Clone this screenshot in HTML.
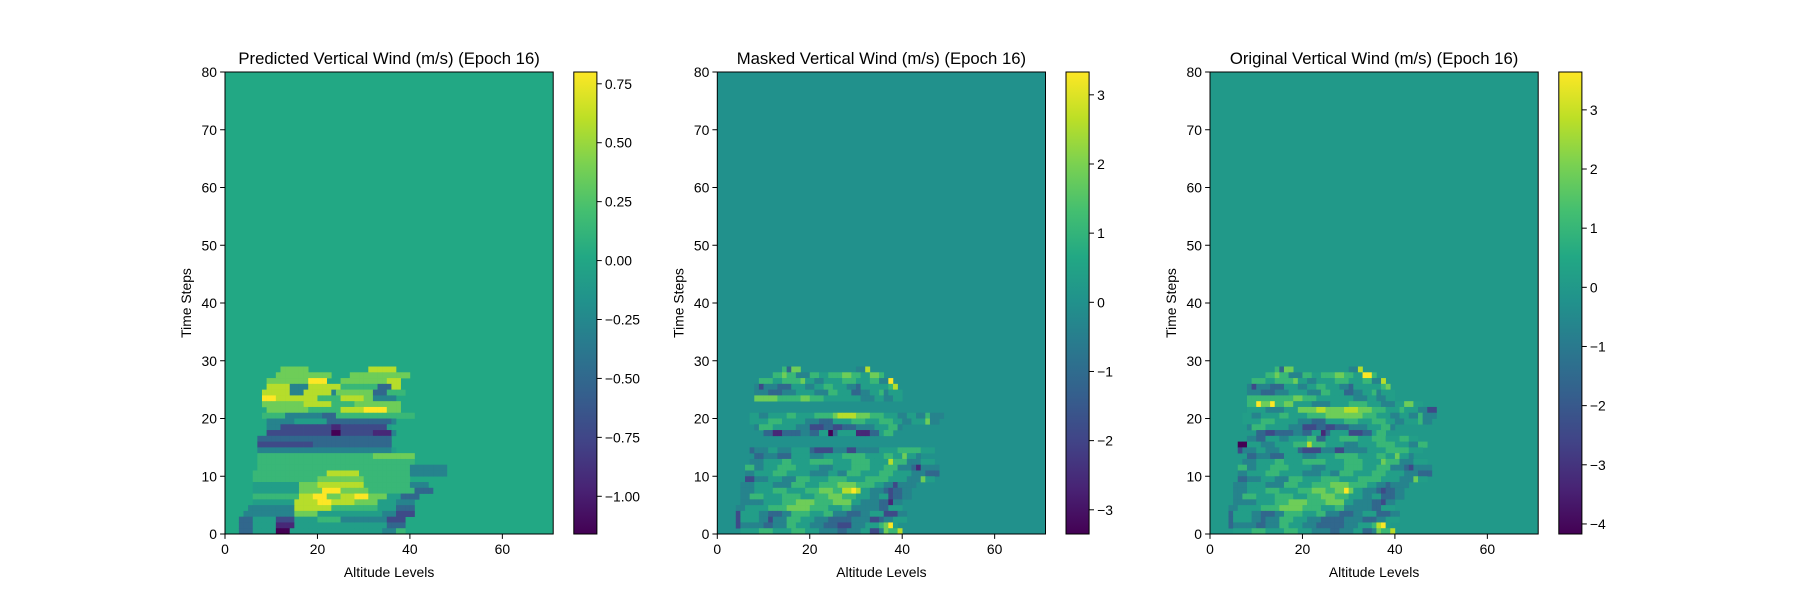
<!DOCTYPE html>
<html><head><meta charset="utf-8">
<style>
html,body{margin:0;padding:0;background:#fff;}
svg text{font-family:"Liberation Sans","DejaVu Sans",sans-serif;fill:#000;}
</style></head>
<body>
<svg id="fig" xmlns="http://www.w3.org/2000/svg" width="1800" height="600" viewBox="0 0 1800 600">
<defs>
<linearGradient id="vir" x1="0" y1="1" x2="0" y2="0">
<stop offset="0" stop-color="#440154"/><stop offset="0.1" stop-color="#482475"/>
<stop offset="0.2" stop-color="#414487"/><stop offset="0.3" stop-color="#355f8d"/>
<stop offset="0.4" stop-color="#2a788e"/><stop offset="0.5" stop-color="#21918c"/>
<stop offset="0.6" stop-color="#22a884"/><stop offset="0.7" stop-color="#44bf70"/>
<stop offset="0.8" stop-color="#7ad151"/><stop offset="0.9" stop-color="#bddf26"/>
<stop offset="1" stop-color="#fde725"/>
</linearGradient>
</defs>
</svg>
<script>
// Heatmap data: run-length rows (char:count), digits 0-9 = normalized level, '.' = background. Listed from row 28 down to row 0.
const titles = ["Predicted Vertical Wind (m/s) (Epoch 16)","Masked Vertical Wind (m/s) (Epoch 16)","Original Vertical Wind (m/s) (Epoch 16)"];
const ranges = [[-1.16,0.80],[-3.35,3.33],[-4.17,3.64]];
const bgNorm = [0.6,0.5,0.534];
const xTicks = [0,20,40,60];
const yTicks = [0,10,20,30,40,50,60,70,80];
const cbTicks1 = [0.75,0.5,0.25,0,-0.25,-0.5,-0.75,-1.0];
const cbLabels1 = ["0.75","0.50","0.25","0.00","\u22120.25","\u22120.50","\u22120.75","\u22121.00"];
const cbTicks2 = [3,2,1,0,-1,-2,-3];
const cbLabels2 = ["3","2","1","0","\u22121","\u22122","\u22123"];
const cbTicks3 = [3,2,1,0,-1,-2,-3,-4];
const cbLabels3 = ["3","2","1","0","\u22121","\u22122","\u22123","\u22124"];
const p1Rows = [
".:12 7:6 .:13 8:6",
".:11 7:12 .:4 7:13",
".:9 7:9 9:4 .:3 7:10 8:3",
".:9 8:5 4:4 8:7 6:8 3:3 8:2",
".:8 8:6 4:3 8:6 4:1 7:8 3:3 6:4",
".:8 9:3 8:9 6:5 8:5 7:2 4:5",
".:8 7:9 8:6 6:5 7:10",
".:9 7:9 6:7 8:5 9:5 7:3",
".:8 6:5 4:8 3:3 6:17",
".:9 4:6 5:7 3:4 3:10 4:1",
".:9 4:3 2:11 1:2 2:10 5:1",
".:9 2:14 0:2 2:7 1:4 4:1",
".:7 3:29",
".:7 2:12 3:17",
".:7 4:29 5:1",
".:7 6:25 7:9",
".:7 6:34",
".:7 6:33 4:8",
".:6 6:16 8:7 6:11 4:8",
".:6 6:14 7:10 6:10",
".:6 5:10 7:4 8:10 6:10 4:4",
".:6 5:10 7:5 9:4 7:6 6:10 3:4",
".:6 6:10 8:3 9:3 7:3 8:3 9:3 7:4 5:3 3:4",
".:6 5:9 8:5 9:3 8:5 7:5 5:4 4:4",
".:5 4:10 8:8 6:10 5:4 3:4",
".:4 4:11 7:5 5:14 4:3 2:4",
".:3 3:3 5:5 2:4 5:5 6:5 4:10 2:4",
".:3 3:3 5:5 1:4 5:20 3:4",
".:3 3:3 5:5 0:3 5:20 4:3 6:2"
];
const p2Rows = [
".:14 6:1 3:1 7:2 .:12 4:2 8:1",
".:12 6:2 7:1 6:2 4:3 6:2 5:2 6:3 7:2 6:2 5:2 7:2 6:1",
".:9 6:3 5:2 6:4 7:1 5:2 4:2 5:4 6:3 5:3 6:2 4:2 9:1",
".:8 4:1 2:1 4:3 3:3 5:3 4:2 5:2 6:2 5:3 4:2 3:1 5:3 5:3 6:1 8:1",
".:8 4:3 3:3 4:3 5:4 4:3 6:2 5:3 3:2 4:2 5:2 6:1 4:1 5:3",
".:8 7:5 6:5 7:2 6:3 5:8 4:3 5:2 4:2 5:2",
"",
"",
".:7 5:2 4:2 5:4 6:2 5:4 6:4 7:1 8:4 7:3 6:3 5:3 4:2 5:2 4:2 6:1 4:2 4:1",
".:7 5:4 6:3 5:5 4:3 3:3 5:4 6:3 5:3 6:3 5:2 4:2 5:3 7:1 4:2",
".:8 4:1 6:3 5:5 4:3 2:3 3:2 2:2 3:3 4:4 5:3 6:2 4:1",
".:10 3:2 1:2 3:4 4:2 3:2 5:2 0:1 3:1 5:4 1:3 3:2 5:1 6:2",
"",
"",
".:7 3:1 4:3 5:2 4:3 5:4 3:1 2:4 4:3 2:2 4:5 5:4 6:2 6:3 5:3",
".:8 3:2 4:3 3:3 5:4 4:3 5:4 6:5 5:4 6:2 5:2 7:1 5:2 4:1",
".:7 4:3 5:4 6:2 5:4 6:5 5:4 6:4 5:4 8:1 6:3 4:3 5:3",
".:6 6:2 4:2 5:3 6:4 5:5 4:3 5:4 6:4 5:3 6:3 4:3 3:1 1:1 4:4",
".:6 4:2 5:4 6:3 5:5 4:4 5:2 4:2 6:3 5:4 6:3 5:4 4:3 3:3",
".:6 2:2 4:3 5:3 4:3 6:3 5:4 6:4 5:4 6:5 5:4 4:3 7:1 5:2",
".:5 4:3 5:4 4:4 6:3 5:3 6:4 7:4 6:4 5:2 4:2 2:1 4:4",
".:5 4:3 5:4 6:3 5:4 6:3 7:3 6:2 8:2 9:1 8:1 5:2 4:3 3:1 2:1 3:2 4:2",
".:5 4:2 6:3 5:4 6:4 5:3 6:3 7:3 6:3 5:3 4:2 5:2 2:1 3:2 4:2",
".:5 4:5 5:4 6:3 7:4 6:4 7:4 5:2 4:4 3:2 1:1 4:2",
".:4 4:2 5:5 6:4 7:5 6:4 5:3 6:2 4:6 3:2 5:3",
".:4 2:1 5:4 4:2 3:3 4:2 6:4 5:3 6:2 4:3 3:3 4:2 5:3 2:3 4:2",
".:4 2:1 5:4 4:2 2:1 4:3 6:3 5:3 4:3 3:5 4:4 2:2 3:1 4:2 5:3",
".:4 2:1 4:5 3:2 4:3 6:2 5:3 4:3 3:3 2:3 4:3 5:3 6:1 7:1 9:1 5:1",
".:5 5:4 6:3 5:4 6:3 5:3 4:4 3:2 4:3 5:2 2:2 4:1 7:1 6:2 8:1"
];
const p3Rows = [
".:14 6:1 3:1 7:2 .:12 4:2 8:1",
".:12 6:2 7:1 6:2 4:3 6:2 5:2 6:3 7:2 6:2 5:2 9:2 6:1",
".:9 6:3 5:2 6:4 7:1 5:2 4:2 5:4 6:3 5:3 6:2 4:2 8:1",
".:8 4:1 2:1 4:3 3:3 5:3 4:2 5:2 6:2 5:3 4:2 3:1 5:3 5:3 6:1 7:1",
".:8 4:3 3:3 4:3 5:4 4:3 6:2 5:3 3:2 4:2 5:2 6:1 4:1 5:3",
".:8 6:5 6:5 7:2 6:3 5:8 4:3 5:2 4:2 5:2",
".:8 6:2 9:1 7:2 9:1 6:2 7:2 5:4 4:4 5:4 6:4 5:3 4:3 5:2 7:2 5:2",
".:8 5:4 4:4 5:3 7:4 8:2 7:4 8:3 7:3 6:3 5:3 6:1 5:3 4:2 2:2",
".:7 5:2 4:2 5:4 6:2 5:4 6:4 7:1 7:4 7:3 6:3 5:3 4:2 5:2 4:2 6:1 4:2 4:1",
".:7 5:4 6:3 5:5 4:3 3:3 5:4 6:3 5:3 6:3 5:2 4:2 5:3 6:1 4:2",
".:8 4:1 6:3 5:5 4:3 2:3 3:2 2:2 3:3 4:4 5:3 6:2 4:1",
".:10 3:2 2:2 3:4 4:2 3:2 5:2 1:1 3:1 5:4 2:3 3:2 5:1 6:2",
".:8 4:2 3:2 5:3 4:2 5:4 6:2 3:2 5:3 6:4 5:3 6:3 5:3 6:2 5:2",
".:6 0:2 5:3 4:3 5:4 6:3 8:1 6:3 5:4 4:3 5:4 6:4 5:3 4:2 6:2",
".:6 2:1 4:3 5:2 4:3 5:4 3:1 2:4 4:3 2:2 4:5 5:4 6:2 6:3 5:3",
".:8 3:2 4:3 3:3 5:4 4:3 5:4 6:5 5:4 6:2 5:2 7:1 5:2 4:1",
".:7 4:3 5:4 6:2 5:4 6:5 5:4 6:4 5:4 7:1 6:3 4:3 5:3",
".:6 6:2 4:2 5:3 6:4 5:5 4:3 5:4 6:4 5:3 6:3 4:3 3:1 2:1 4:4",
".:6 4:2 5:4 6:3 5:5 4:4 5:2 4:2 6:3 5:4 6:3 5:4 4:3 3:3",
".:6 3:2 4:3 5:3 4:3 6:3 5:4 6:4 5:4 6:5 5:4 4:3 7:1 5:2",
".:5 4:3 5:4 4:4 6:3 5:3 6:4 7:4 6:4 5:2 4:2 3:1 4:4",
".:5 4:3 5:4 6:3 5:4 6:3 7:3 6:2 7:2 9:1 7:1 5:2 4:3 3:1 2:1 3:2 4:2",
".:5 4:2 6:3 5:4 6:4 5:3 6:3 7:3 6:3 5:3 4:2 5:2 3:1 3:2 4:2",
".:5 4:5 5:4 6:3 7:4 6:4 7:4 5:2 4:4 3:2 2:1 4:2",
".:4 4:2 5:5 6:4 7:5 6:4 5:3 6:2 4:6 3:2 5:3",
".:4 3:1 5:4 4:2 3:3 4:2 6:4 5:3 6:2 4:3 3:3 4:2 5:3 3:3 4:2",
".:4 3:1 5:4 4:2 3:1 4:3 6:3 5:3 4:3 3:5 4:4 3:2 3:1 4:2 5:3",
".:4 3:1 4:5 3:2 4:3 6:2 5:3 4:3 3:3 3:3 4:3 5:3 6:1 8:1 9:1 5:1",
".:5 5:4 6:3 5:4 6:3 5:3 4:4 3:2 4:3 5:2 3:2 4:1 7:1 6:2 8:1"
];
const topRow = 28, nCols = 71, nRows = 80;

const NS = "http://www.w3.org/2000/svg";
const svg = document.getElementById('fig');
const axX = [225, 717.3, 1210], axW = 328.2, axY = 72, axH = 462;
const cbX = [573.8, 1066, 1558.8], cbW = 23.1;
const VIR = ["#440154","#482475","#414487","#355f8d","#2a788e","#21918c","#22a884","#44bf70","#7ad151","#bddf26","#fde725"];
function hex(h){return [parseInt(h.slice(1,3),16),parseInt(h.slice(3,5),16),parseInt(h.slice(5,7),16)];}
function viridis(t){
  t=Math.max(0,Math.min(1,t)); const s=t*10; const i=Math.min(9,Math.floor(s)); const f=s-i;
  const a=hex(VIR[i]), b=hex(VIR[i+1]);
  return "rgb("+a.map((v,k)=>Math.round(v+(b[k]-v)*f)).join(",")+")";
}
function mk(tag, attrs, parent){const e=document.createElementNS(NS,tag); for(const k in attrs) e.setAttribute(k,attrs[k]); (parent||svg).appendChild(e); return e;}
function parseRow(s){
  const out=[]; if(!s) return out;
  s.trim().split(/\s+/).forEach(tok=>{const [c,n]=tok.split(':'); for(let i=0;i<+n;i++) out.push(c);});
  return out;
}
const allRows=[p1Rows,p2Rows,p3Rows];
const allCb=[[cbTicks1,cbLabels1],[cbTicks2,cbLabels2],[cbTicks3,cbLabels3]];

for(let p=0;p<3;p++){
  const x0=axX[p], cw=axW/nCols, rh=axH/nRows;
  const xs=v=>x0+v*cw, ys=v=>axY+axH-v*rh;
  const g=mk('g',{});
  
  
  const bg=mk('rect',{x:x0,y:axY,width:axW,height:axH,fill:viridis(bgNorm[p])},g);
  
  
  const rows=allRows[p];
  for(let i=0;i<rows.length;i++){
    const r=topRow-i; const cells=parseRow(rows[i]);
    for(let c=0;c<cells.length&&c<nCols;c++){
      if(cells[c]==='.') continue;
      const rect=mk('rect',{x:xs(c).toFixed(2),y:ys(r+1).toFixed(2),width:(cw+0.3).toFixed(2),height:(rh+0.3).toFixed(2),fill:viridis((+cells[c])/9)},g);
      
      
    }
  }
  const fr=mk('rect',{x:x0,y:axY,width:axW,height:axH,fill:'none',stroke:'#000','stroke-width':1});
  
  
  // x ticks
  xTicks.forEach(v=>{
    const X=xs(v);
    const t=mk('line',{x1:X,x2:X,y1:axY+axH,y2:axY+axH+4.9,stroke:'#000','stroke-width':1});
    
    
    const l=mk('text',{x:X,y:axY+axH+20,'font-size':13.9,'text-anchor':'middle'}); l.textContent=v;
    
    
  });
  yTicks.forEach(v=>{
    const Y=ys(v);
    const t=mk('line',{x1:x0-4.9,x2:x0,y1:Y,y2:Y,stroke:'#000','stroke-width':1});
    
    
    const l=mk('text',{x:x0-8,y:Y+5,'font-size':13.9,'text-anchor':'end'}); l.textContent=v;
    
    
  });
  const ti=mk('text',{x:x0+axW/2,y:64,'font-size':16.7,'text-anchor':'middle'}); ti.textContent=titles[p];
  
  
  const xl=mk('text',{x:x0+axW/2,y:577,'font-size':13.9,'text-anchor':'middle'}); xl.textContent='Altitude Levels';
  
  
  const yl=mk('text',{x:0,y:0,'font-size':13.9,'text-anchor':'middle',transform:'translate('+(x0-34)+','+(axY+axH/2)+') rotate(-90)'}); yl.textContent='Time Steps';
  
  
  // colorbar
  const [vmin,vmax]=ranges[p]; const cx=cbX[p];
  const cs=v=>axY+axH-(v-vmin)/(vmax-vmin)*axH;
  const cb=mk('rect',{x:cx,y:axY,width:cbW,height:axH,fill:'url(#vir)',stroke:'#000','stroke-width':1});
  
  
  const [tv,tl]=allCb[p];
  tv.forEach((v,i)=>{
    const Y=cs(v);
    const t=mk('line',{x1:cx+cbW,x2:cx+cbW+4.9,y1:Y,y2:Y,stroke:'#000','stroke-width':1});
    
    
    const l=mk('text',{x:cx+cbW+8,y:Y+5,'font-size':13.9}); l.textContent=tl[i];
    
    
  });
}
</script>
</body></html>
